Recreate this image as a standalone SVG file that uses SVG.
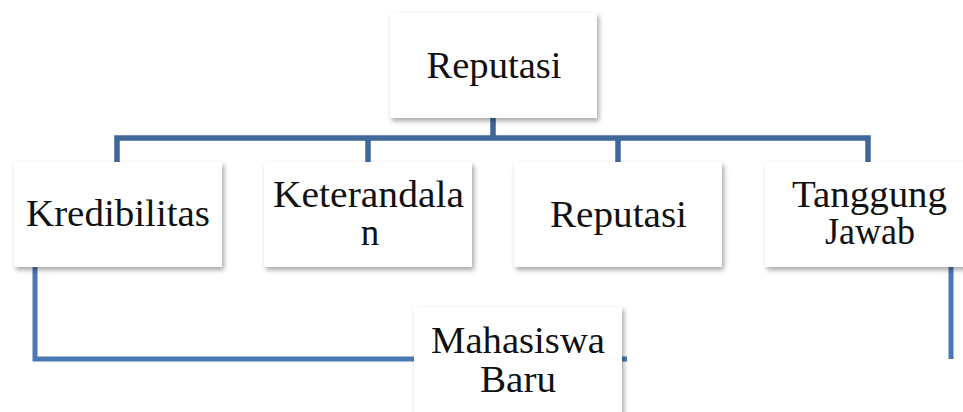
<svg xmlns="http://www.w3.org/2000/svg" width="963" height="412" viewBox="0 0 963 412">
  <defs>
    <filter id="shadow" x="-10%" y="-10%" width="125%" height="130%">
      <feDropShadow dx="2" dy="3" stdDeviation="2.5" flood-color="#000" flood-opacity="0.35"/>
    </filter>
    <style>
      .box { fill: #ffffff; filter: url(#shadow); }
      .lbl { font-family: "Liberation Serif", "DejaVu Serif", serif; font-size: 37px; fill: #111; text-anchor: middle; }
      .top { fill: none; stroke: #40679a; stroke-width: 5.5; stroke-linejoin: miter; }
      .low { fill: none; stroke: #4a78b2; stroke-width: 5; stroke-linejoin: miter; }
    </style>
  </defs>
  <rect width="963" height="412" fill="#ffffff"/>

  <g id="connectors">
    <path class="top" d="M493 118 V138 M117 162 V138 H868 V162 M368 138 V162 M618 138 V162"/>
    <path class="low" d="M35 267 V359 H627"/>
    <path class="low" d="M951 266 V359" stroke="#4f81bd"/>
  </g>

  <g id="node-reputasi-top">
    <rect class="box" x="390" y="13" width="207" height="105"/>
    <text class="lbl" x="494" y="78" textLength="135" lengthAdjust="spacingAndGlyphs">Reputasi</text>
  </g>

  <g id="node-kredibilitas">
    <rect class="box" x="14" y="162" width="208" height="105"/>
    <text class="lbl" x="118" y="226" textLength="184" lengthAdjust="spacingAndGlyphs">Kredibilitas</text>
  </g>

  <g id="node-keterandalan">
    <rect class="box" x="264" y="162" width="208" height="105"/>
    <text class="lbl" x="368.5" y="207" textLength="191" lengthAdjust="spacingAndGlyphs">Keterandala</text>
    <text class="lbl" x="370" y="245">n</text>
  </g>

  <g id="node-reputasi">
    <rect class="box" x="514" y="162" width="208" height="105"/>
    <text class="lbl" x="618.5" y="227" textLength="137" lengthAdjust="spacingAndGlyphs">Reputasi</text>
  </g>

  <g id="node-tanggung-jawab">
    <rect class="box" x="765" y="162" width="208" height="105"/>
    <text class="lbl" x="869.5" y="207" textLength="155" lengthAdjust="spacingAndGlyphs">Tanggung</text>
    <text class="lbl" x="870" y="244" textLength="90" lengthAdjust="spacingAndGlyphs">Jawab</text>
  </g>

  <g id="node-mahasiswa-baru">
    <rect class="box" x="414" y="307" width="208" height="115"/>
    <text class="lbl" x="518" y="353" textLength="174" lengthAdjust="spacingAndGlyphs">Mahasiswa</text>
    <text class="lbl" x="518" y="392" textLength="76" lengthAdjust="spacingAndGlyphs">Baru</text>
  </g>
</svg>
